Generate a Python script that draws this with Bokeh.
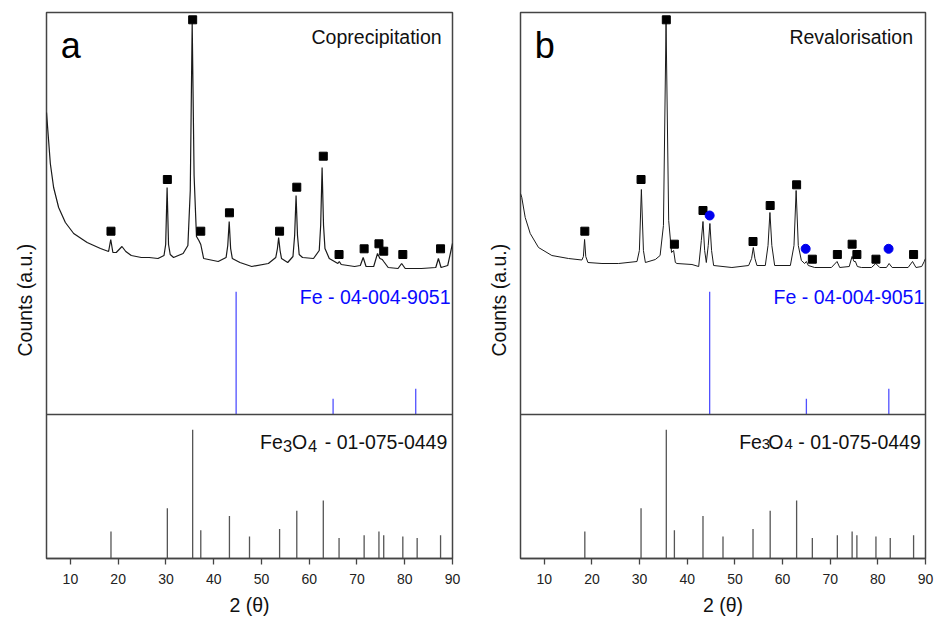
import math
from bokeh.plotting import figure
from bokeh.models import Range1d, Span, Label, FixedTicker, Title
from bokeh.layouts import row
from bokeh.embed import file_html
from bokeh.resources import INLINE

FONT = "Liberation Sans"

# ---- reference patterns ----
fe3o4_pos = [18.5, 30.3, 35.6, 37.3, 43.3, 47.5, 53.8, 57.4, 62.95, 66.25, 71.5, 74.6, 75.6, 79.6, 82.6, 87.5]
fe3o4_int = [21, 39, 100, 22, 33, 17, 23, 37, 45, 16, 18, 21, 18, 17, 16, 18]
fe_pos = [44.7, 65.0, 82.3]
fe_int = [100, 13, 21]

# ---- measured patterns (counts, a.u.) ----
copr_2theta = [5.0, 5.44, 5.8, 6.49, 7.54, 8.95, 10.69, 13.51, 16.3, 18.0,
               18.45, 18.9, 19.6, 20.8, 21.6, 22.75, 24.85, 26.5, 28.34, 29.6,
               29.95, 30.25, 30.55, 30.9, 31.6, 33.6, 34.6, 35.1, 35.5, 35.9,
               36.4, 36.9, 37.3, 37.9, 40.95, 42.6, 42.95, 43.25, 43.55, 43.9,
               45.5, 47.96, 51.45, 53.0, 53.35, 53.6, 53.9, 54.2, 55.5, 56.6,
               56.95, 57.25, 57.55, 57.9, 58.6, 60.9, 62.1, 62.4, 62.7, 63.0,
               63.3, 64.2, 66.0, 66.3, 66.7, 69.5, 70.7, 71.3, 71.9, 73.5,
               74.3, 74.8, 75.3, 75.6, 76.53, 78.6, 79.35, 80.1, 83.5, 86.5,
               87.05, 87.6, 89.0, 90.0]
copr_counts = [1880, 1600, 1370, 1130, 930, 780, 670, 580, 520, 490,
               610, 480, 480, 540, 490, 450, 430, 430, 420, 450,
               560, 1130, 560, 460, 430, 470, 550, 1100, 2780, 1250,
               640, 600, 560, 420, 390, 430, 550, 790, 520, 420,
               380, 340, 370, 430, 520, 630, 500, 420, 380, 440,
               650, 1050, 650, 460, 430, 420, 500, 750, 1330, 750,
               520, 420, 370, 390, 360, 340, 350, 430, 340, 340,
               470, 420, 410, 390, 330, 320, 370, 320, 320, 330,
               420, 330, 350, 570]

reval_2theta = [5.0, 5.27, 5.99, 7.04, 8.78, 11.58, 15.08, 17.88, 18.2, 18.45,
                18.7, 19.15, 22.1, 25.6, 29.45, 29.95, 30.37, 30.8, 31.21, 33.3,
                34.3, 35.0, 35.55, 36.1, 36.7, 37.14, 37.5, 37.84, 40.99, 42.4,
                42.95, 43.3, 43.65, 44.0, 44.4, 44.75, 45.1, 45.53, 49.37, 52.88,
                53.5, 53.86, 54.2, 54.62, 56.38, 56.95, 57.35, 57.75, 58.34, 61.64,
                62.4, 62.85, 63.3, 63.95, 64.64, 65.0, 65.4, 66.74, 70.25, 71.43,
                72.0, 74.0, 74.58, 75.0, 75.29, 75.7, 76.55, 78.66, 79.56, 80.4,
                81.8, 82.36, 83.0, 86.35, 87.28, 88.0, 89.2, 89.73, 90.0]
reval_counts = [1070, 1030, 830, 670, 530, 450, 420, 405, 440, 610,
                440, 380, 370, 370, 390, 500, 1110, 500, 380, 410,
                450, 750, 2780, 800, 480, 500, 380, 370, 360, 340,
                600, 790, 500, 380, 550, 770, 500, 350, 330, 350,
                420, 530, 420, 350, 350, 550, 880, 550, 350, 350,
                550, 1100, 550, 400, 370, 390, 350, 330, 330, 390,
                330, 340, 440, 390, 390, 340, 330, 330, 370, 330,
                330, 370, 330, 330, 390, 330, 340, 390, 420]

# ---- peak markers ----
sq_2theta = [18.5, 30.3, 35.6, 37.3, 43.3, 53.8, 57.4, 62.95, 66.25, 71.5, 74.6, 75.6, 79.6, 87.5]
copr_sq_counts = [693, 1210, 2807, 693, 877, 693, 1133, 1443, 460, 517, 567, 493, 460, 517]
reval_sq_counts = [693, 1210, 2807, 563, 900, 590, 950, 1157, 413, 460, 563, 460, 413, 460]
reval_fe_2theta = [44.7, 64.85, 82.25]
reval_fe_counts = [850, 517, 517]

x_ticks = [10, 20, 30, 40, 50, 60, 70, 80, 90]

XMIN, XMAX = 5, 90
YMIN, YMAX = -2580, 2880
H = 618
TOP, BOTTOM = 12, 60


def ycnt(img_y):
    # convert a page-pixel baseline to the main count scale (layout helper)
    return (300 - img_y) * 10


def make_panel(width, bl, br, pattern_x, pattern_y, sq_y, letter, title,
               title_off, fe_off, sub_size, sub_base, pieces, ylab_standoff,
               line_w, fe_pts=None):
    p = figure(width=width, height=H, x_range=Range1d(XMIN, XMAX),
               y_range=Range1d(YMIN, YMAX), output_backend="svg",
               toolbar_location=None, min_border_left=bl, min_border_right=br,
               min_border_top=TOP, min_border_bottom=BOTTOM)
    p.extra_y_ranges = {"fe": Range1d(-117, 327), "fe3o4": Range1d(0, 424)}
    fw = width - bl - br
    ppu = fw / (XMAX - XMIN)

    def xr(off):
        return XMAX + off / ppu

    def xl(off):
        return XMIN + off / ppu

    p.background_fill_color = "white"
    p.border_fill_color = "white"
    p.outline_line_color = "#444444"
    p.outline_line_width = 1.5
    p.xgrid.visible = False
    p.ygrid.visible = False
    p.yaxis.visible = False

    ax = p.xaxis[0]
    ax.ticker = FixedTicker(ticks=x_ticks)
    ax.minor_tick_line_color = None
    ax.major_tick_in = 0
    ax.major_tick_out = 6
    ax.major_tick_line_color = "#444444"
    ax.major_tick_line_width = 1.3
    ax.axis_line_color = "#444444"
    ax.axis_line_width = 1.5
    ax.major_label_text_font = FONT
    ax.major_label_text_font_size = "14px"
    ax.major_label_text_color = "#222222"
    ax.major_label_standoff = 9
    ax.axis_label = "2 (θ)"
    ax.axis_label_text_font = FONT
    ax.axis_label_text_font_size = "19.5px"
    ax.axis_label_text_font_style = "normal"
    ax.axis_label_text_color = "#111111"
    ax.axis_label_standoff = 7

    # vertical axis title (placed like the original, below the frame centre)
    p.add_layout(Title(text="Counts (a.u.)", align="left", offset=202,
                       standoff=ylab_standoff, text_font=FONT,
                       text_font_size="19.5px", text_font_style="normal",
                       text_color="#111111"), "left")

    # divider between sample pattern / Fe reference and Fe3O4 reference
    p.add_layout(Span(location=ycnt(414), dimension="width",
                      line_color="#444444", line_width=1.5))

    # reference sticks
    p.segment(x0=fe3o4_pos, y0=[0] * len(fe3o4_pos), x1=fe3o4_pos, y1=fe3o4_int,
              line_color="#555555", line_width=1.3, y_range_name="fe3o4")
    p.segment(x0=fe_pos, y0=[0] * len(fe_pos), x1=fe_pos, y1=fe_int,
              line_color="#5050ff", line_width=1.3, y_range_name="fe")

    # measured pattern
    p.line(pattern_x, pattern_y, line_color="#1a1a1a", line_width=line_w)
    p.scatter(sq_2theta, sq_y, marker="square", size=8, color="black")
    if fe_pts is not None:
        p.scatter(fe_pts[0], fe_pts[1], marker="circle", size=9, color="#0000ee")

    # texts
    p.add_layout(Label(x=xl(14.3), y=ycnt(45), text=letter, text_font=FONT,
                       text_font_size="36px", text_align="left",
                       text_baseline="alphabetic", text_color="black"))
    p.add_layout(Label(x=xr(title_off), y=ycnt(36), text=title, text_font=FONT,
                       text_font_size="19.5px", text_align="right",
                       text_baseline="alphabetic", text_color="#111111"))
    p.add_layout(Label(x=xr(fe_off), y=ycnt(296.5), text="Fe - 04-004-9051",
                       text_font=FONT, text_font_size="19.5px", text_align="right",
                       text_baseline="alphabetic", text_color="#0a0aff"))
    fe_o, s3_o, o_o, s4_o, rest_o = pieces
    for txt, off, size, base, align in [
            ("Fe", fe_o, "19.5px", 441, "left"),
            ("3", s3_o, sub_size, sub_base, "left"),
            ("O", o_o, "19.5px", 441, "left"),
            ("4", s4_o, sub_size, sub_base, "left"),
            ("- 01-075-0449", rest_o, "19.5px", 441, "right")]:
        p.add_layout(Label(x=xr(off), y=ycnt(base), text=txt, text_font=FONT,
                           text_font_size=size, text_align=align,
                           text_baseline="alphabetic", text_color="#111111"))
    return p


p1 = make_panel(470, 46, 18, copr_2theta, copr_counts, copr_sq_counts, "a",
                "Coprecipitation", -10.9, -2.0, "16.5px", 445.5,
                (-192.5, -169.5, -160.5, -144.5, -5.2), 22, 1.2)
p2 = make_panel(465, 50, 10, reval_2theta, reval_counts, reval_sq_counts, "b",
                "Revalorisation", -12.5, -1.2, "15px", 443.5,
                (-186.3, -163.8, -157.2, -141.0, -4.7), 22, 1.0,
                fe_pts=(reval_fe_2theta, reval_fe_counts))

layout = row(p1, p2)
open("out.html", "w").write(file_html(layout, INLINE))
